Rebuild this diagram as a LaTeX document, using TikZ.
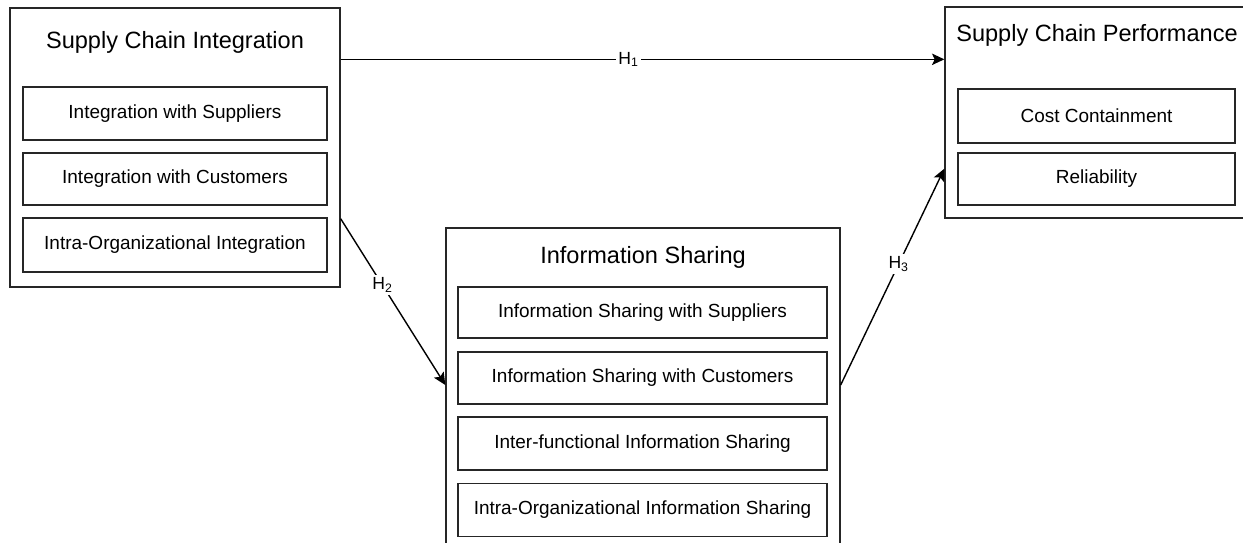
\documentclass[tikz,border=0pt]{standalone}
\usepackage{fontspec}
\setmainfont{Liberation Sans}
\usetikzlibrary{arrows.meta}

\begin{document}
\begin{tikzpicture}[x=0.02cm,y=-0.02cm,line width=0.8pt,
	outer/.style={draw=black!85,rectangle,inner sep=0pt},
	item/.style={draw=black!85,rectangle,inner sep=0pt,font=\fontsize{10.8}{13}\selectfont},
	title/.style={font=\fontsize{13.4}{16}\selectfont},
	hyp/.style={-{Stealth[length=7pt,width=6.5pt,inset=1.5pt]}},
	hlab/.style={fill=white,inner sep=1.5pt,font=\fontsize{10}{12}\selectfont}]
\clip (0,0) rectangle (1243,542);
% supply chain integration
\node[outer,minimum width=6.6cm,minimum height=5.58cm] (sci) at (175,147.5) {};
\node[title] (scit) at (175,42) {Supply Chain Integration};
\node[item,minimum width=6.08cm,minimum height=1.06cm] (sci1) at (175,113.5) {Integration with Suppliers};
\node[item,minimum width=6.08cm,minimum height=1.04cm] (sci2) at (175,179) {Integration with Customers};
\node[item,minimum width=6.08cm,minimum height=1.08cm] (sci3) at (175,245) {Intra-Organizational Integration};
% supply chain performance (runs off the right edge)
\node[outer,minimum width=6.2cm,minimum height=4.22cm] (scp) at (1100,112.5) {};
\node[title] (scpt) at (1097,35) {Supply Chain Performance};
\node[item,minimum width=5.54cm,minimum height=1.08cm] (scp1) at (1096.5,116) {Cost Containment};
\node[item,minimum width=5.54cm,minimum height=1.04cm] (scp2) at (1096.5,179) {Reliability};
% information sharing
\node[outer,minimum width=7.88cm,minimum height=6.64cm] (isb) at (643,394) {};
\node[title] (isbt) at (643,257) {Information Sharing};
\node[item,minimum width=7.38cm,minimum height=1.02cm] (isb1) at (642.5,312.5) {Information Sharing with Suppliers};
\node[item,minimum width=7.38cm,minimum height=1.04cm] (isb2) at (642.5,378) {Information Sharing with Customers};
\node[item,minimum width=7.38cm,minimum height=1.06cm] (isb3) at (642.5,443.5) {Inter-functional Information Sharing};
\node[item,minimum width=7.38cm,minimum height=1.06cm] (isb4) at (642.5,510) {Intra-Organizational Information Sharing};
% hypotheses
\draw[hyp] ([yshift=-1.04cm]sci.north east) -- node[hlab,pos=0.477]{H\textsubscript{1}} ([yshift=-1.04cm]sci.north east -| scp.west);
\draw[hyp] ([yshift=1.38cm]sci.south east) -- node[hlab,pos=0.4]{H\textsubscript{2}} ([yshift=-0.14cm]isb.west |- isb2);
\draw[hyp] ([yshift=-0.14cm]isb.east |- isb2) -- node[hlab,pos=0.56]{H\textsubscript{3}} ([yshift=1.0cm]scp.south west);
\end{tikzpicture}
\end{document}
